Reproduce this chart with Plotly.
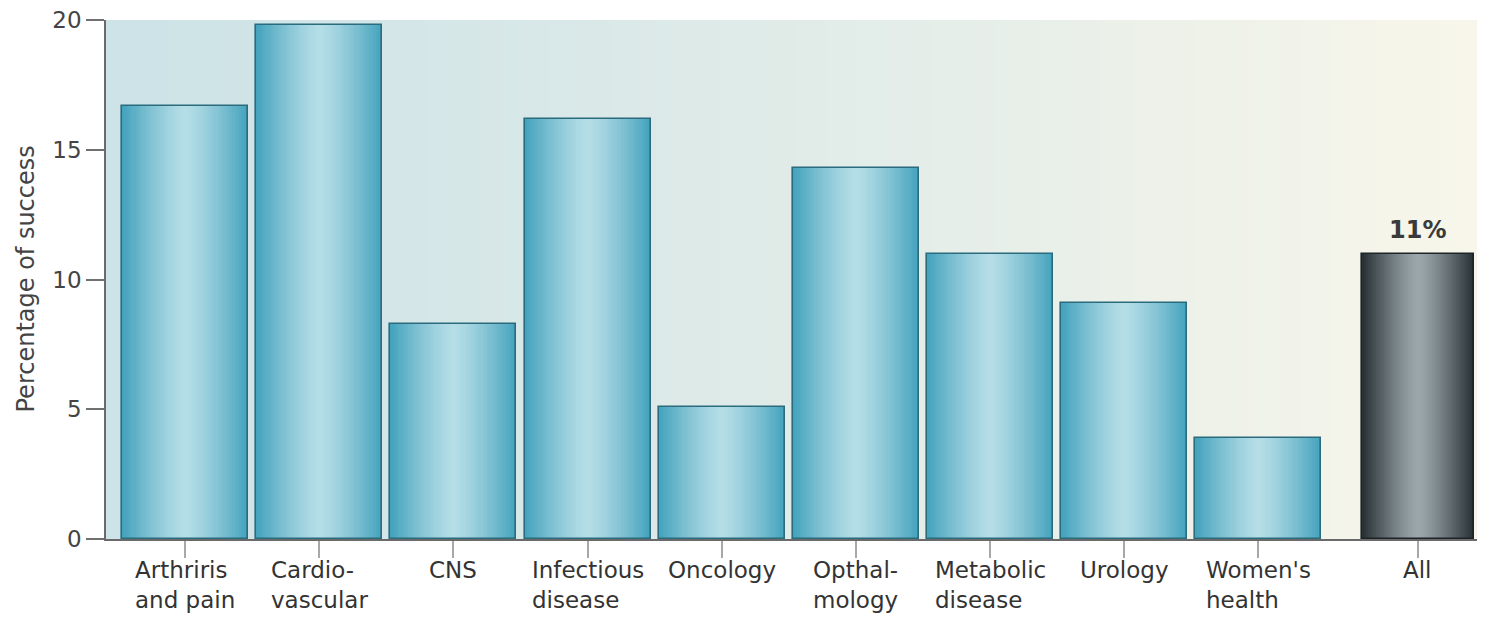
import plotly.graph_objects as go

# ---- data ----
categories = ["Arthriris<br>and pain", "Cardio-<br>vascular", "CNS", "Infectious<br>disease",
              "Oncology", "Opthal-<br>mology", "Metabolic<br>disease", "Urology",
              "Women's<br>health", "All"]
success_pct = [16.7, 19.8, 8.3, 16.2, 5.1, 14.3, 11.0, 9.1, 3.9, 11.0]
y_ticks = [0, 5, 10, 15, 20]
all_label = "11%"

# ---- layout helpers ----
ALL_GAP = 0.19
xpos = [i + (ALL_GAP if c == "All" else 0) for i, c in enumerate(categories)]
is_all = [c == "All" for c in categories]
widths = [0.83 if a else 0.94 for a in is_all]


def hex2rgb(h):
    h = h.lstrip("#")
    return tuple(int(h[i:i + 2], 16) for i in (0, 2, 4))


def mix(c1, c2, t):
    a, b = hex2rgb(c1), hex2rgb(c2)
    return "rgb(%d,%d,%d)" % tuple(round(a[i] + (b[i] - a[i]) * t) for i in range(3))


BLUE_EDGE, BLUE_CENTER = "#45a3bd", "#b6dee7"
DARK_EDGE, DARK_CENTER = "#283134", "#9da8ad"

fig = go.Figure()

# cylindrical gradient via stacked overlay bars (outer -> inner)
N = 28
for k in range(N):
    frac = 1 - k / N
    t = 1 - frac ** 1.3
    cols = [mix(DARK_EDGE, DARK_CENTER, t) if a else mix(BLUE_EDGE, BLUE_CENTER, t) for a in is_all]
    fig.add_trace(go.Bar(
        x=xpos, y=success_pct, width=[w * frac for w in widths],
        marker=dict(color=cols, line=dict(width=0)),
        hoverinfo="skip", showlegend=False,
    ))

# outline
fig.add_trace(go.Bar(
    x=xpos, y=success_pct, width=widths,
    marker=dict(color="rgba(0,0,0,0)",
                line=dict(width=1.6, color=["#1c2427" if a else "#2a6b7d" for a in is_all])),
    hoverinfo="skip", showlegend=False,
))

# background gradient strips
NS = 90
shapes = []
for i in range(NS):
    t = i / (NS - 1)
    shapes.append(dict(type="rect", xref="x domain", yref="y domain",
                       x0=i / NS, x1=(i + 1) / NS + 0.002, y0=0, y1=1,
                       fillcolor=mix("#cde3e7", "#f8f6ea", t ** 1.15), line=dict(width=0),
                       layer="below"))

annotations = []
for x, c in zip(xpos, categories):
    annotations.append(dict(x=x, y=0, xref="x", yref="y", text=c, showarrow=False,
                            xanchor="center", yanchor="top", align="left", yshift=-16,
                            font=dict(family="DejaVu Sans", size=23, color="#333333")))
# value label over the "All" bar
ia = categories.index("All")
annotations.append(dict(x=xpos[ia], y=success_pct[ia], xref="x", yref="y", text="<b>%s</b>" % all_label,
                        showarrow=False, xanchor="center", yanchor="bottom", yshift=8,
                        font=dict(family="DejaVu Sans", size=24, color="#3a3a3a")))
# y-axis title
annotations.append(dict(x=-81 / 1379, y=0.5, xref="paper", yref="paper", text="Percentage of success",
                        textangle=-90, showarrow=False, xanchor="center", yanchor="middle",
                        font=dict(family="DejaVu Sans", size=24, color="#444444")))

fig.update_layout(
    width=1477, height=611,
    margin=dict(l=98, r=0, t=12, b=80),
    paper_bgcolor="white", plot_bgcolor="white",
    barmode="overlay", bargap=0,
    shapes=shapes, annotations=annotations,
    xaxis=dict(range=[-0.59, 9.69], tickmode="array", tickvals=xpos, showticklabels=False,
               ticks="outside", ticklen=17, tickcolor="#a8a8a8", tickwidth=1.5,
               showline=True, linecolor="#6a6a6a", linewidth=1.5, showgrid=False, zeroline=False,
               fixedrange=True),
    yaxis=dict(range=[0, 20], tickmode="array", tickvals=y_ticks,
               ticks="outside", ticklen=18, tickcolor="#707070", tickwidth=1.5,
               showline=True, linecolor="#6a6a6a", linewidth=1.5, showgrid=False, zeroline=False,
               ticklabeloverflow="allow",
               tickfont=dict(family="DejaVu Sans", size=23, color="#444444"), fixedrange=True),
    showlegend=False,
)

fig.write_html("out.html")
